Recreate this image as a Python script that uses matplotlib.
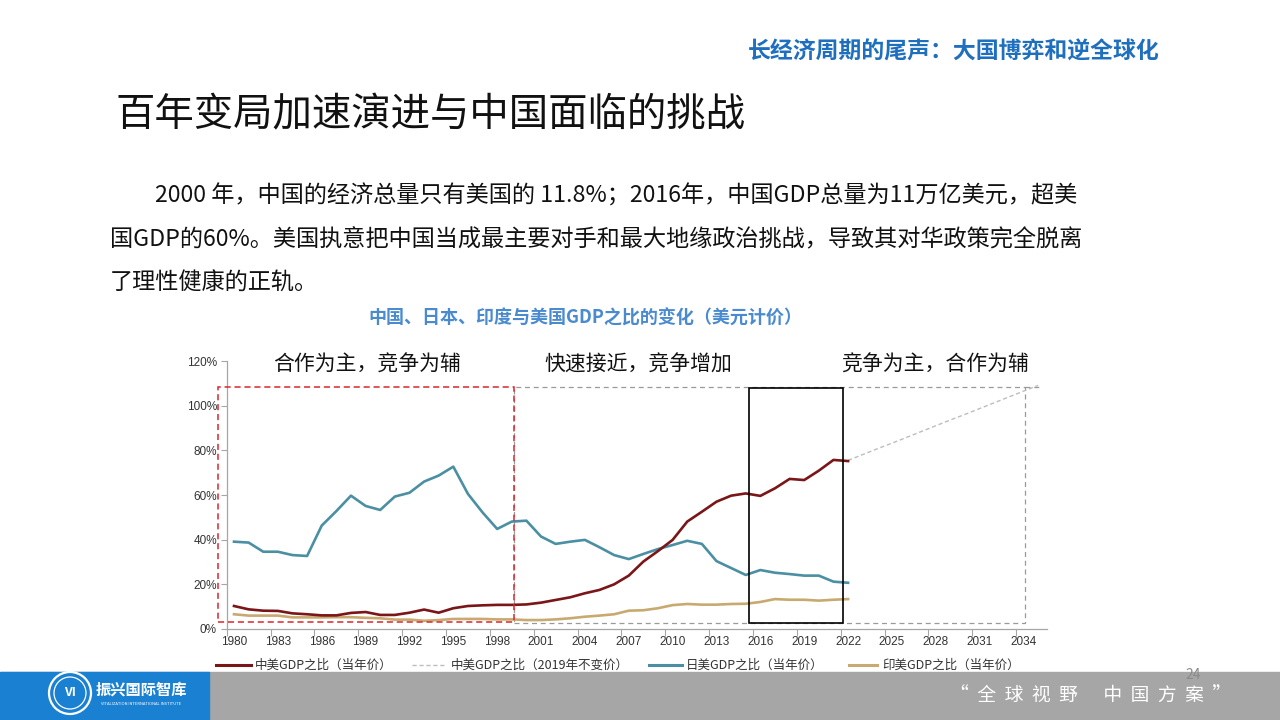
import matplotlib
matplotlib.use("Agg")
import matplotlib.pyplot as plt
from matplotlib.patches import Rectangle, Circle
from matplotlib.lines import Line2D
import numpy as np

plt.rcParams['font.family'] = ['Noto Sans CJK SC', 'DejaVu Sans']

# ---------------- data ----------------
years = list(range(1980, 2023))
china_cur = [10.3, 8.8, 8.2, 8.1, 7.0, 6.6, 6.1, 6.1, 7.2, 7.6,
             6.3, 6.3, 7.3, 8.7, 7.3, 9.3, 10.3, 10.6, 10.8, 10.8,
             11.0, 11.8, 13.0, 14.2, 16.0, 17.5, 20.0, 23.9, 30.2, 34.9,
             39.9, 48.1, 52.5, 57.0, 59.7, 60.7, 59.6, 63.0, 67.2, 66.7,
             70.9, 75.7, 75.2]
japan_cur = [39.1, 38.7, 34.6, 34.6, 33.1, 32.7, 46.3, 52.8, 59.7, 55.1,
             53.3, 59.3, 61.0, 66.0, 68.7, 72.7, 60.5, 52.2, 44.8, 48.1,
             48.5, 41.4, 38.1, 39.1, 39.9, 36.6, 33.1, 31.3, 33.6, 35.8,
             37.6, 39.5, 38.1, 30.4, 27.3, 24.2, 26.4, 25.2, 24.6, 23.9,
             23.9, 21.2, 20.7]
india_cur = [6.6, 6.0, 6.0, 6.0, 5.2, 5.2, 5.2, 5.3, 5.3, 5.0,
             4.8, 4.2, 4.2, 3.7, 4.0, 4.5, 4.5, 4.5, 4.3, 4.3,
             4.0, 4.0, 4.3, 4.8, 5.5, 6.0, 6.6, 8.2, 8.4, 9.3,
             10.7, 11.2, 10.9, 10.9, 11.2, 11.3, 12.1, 13.4, 13.1, 13.1,
             12.7, 13.1, 13.4]
proj_years = list(range(2022, 2036))
china_2019 = [75.5, 78.1, 80.7, 83.2, 85.8, 88.4, 91.0, 93.6, 96.1, 98.7,
              101.3, 103.9, 106.5, 109.1]

xtick_years = list(range(1980, 2035, 3))
ytick_vals = [0, 20, 40, 60, 80, 100, 120]

series_labels = ['中美GDP之比（当年价）', '中美GDP之比（2019年不变价）',
                 '日美GDP之比（当年价）', '印美GDP之比（当年价）']
phase_labels = ['合作为主，竞争为辅', '快速接近，竞争增加', '竞争为主，合作为辅']

c_china = '#7a1518'
c_proj = '#bdbdbd'
c_japan = '#4b8fa3'
c_india = '#c8aa70'

# ---------------- figure ----------------
fig = plt.figure(figsize=(12.8, 7.2), dpi=100)
fig.patch.set_facecolor('white')

bg = fig.add_axes([0, 0, 1, 1])
bg.set_xlim(0, 1280)
bg.set_ylim(720, 0)
bg.axis('off')

# footer band
bg.add_patch(Rectangle((0, 672), 1280, 48, color='#a6a6a6', zorder=1))
bg.add_patch(Rectangle((0, 672), 209, 48, color='#1a80d2', zorder=2))
bg.add_patch(Circle((70, 693), 21, fill=False, ec='white', lw=1.6, zorder=3))
bg.add_patch(Circle((70, 693), 16, fill=False, ec='white', lw=0.9, zorder=3))
bg.text(70, 693, 'VI', color='white', fontsize=9, ha='center', va='center',
        weight='bold', style='italic', zorder=4)
bg.text(141, 690, '振兴国际智库', color='white', fontsize=11, weight='bold',
        ha='center', va='center', zorder=4)
bg.text(141, 704, 'VITALIZATION INTERNATIONAL INSTITUTE', color='white',
        fontsize=3, ha='center', va='center', zorder=4)
bg.text(1091, 696, '“  全  球  视  野      中  国  方  案  ”', color='white', fontsize=13.5,
        ha='center', va='center', zorder=4)
bg.text(1193, 675, '24', color='#8a8a8a', fontsize=10, ha='center', va='center', zorder=4)

# header texts
bg.text(954, 52, '长经济周期的尾声：大国博弈和逆全球化', ha='center', va='center',
        fontsize=16.5, weight='bold', color='#1f6fbf')
bg.text(116, 115, '百年变局加速演进与中国面临的挑战', ha='left', va='center',
        fontsize=28.4, color='#111111')

body = ['2000 年，中国的经济总量只有美国的 11.8%；2016年，中国GDP总量为11万亿美元，超美',
        '国GDP的60%。美国执意把中国当成最主要对手和最大地缘政治挑战，导致其对华政策完全脱离',
        '了理性健康的正轨。']
bg.text(155, 196, body[0], ha='left', va='center', fontsize=16.7, color='#111111')
bg.text(110, 240, body[1], ha='left', va='center', fontsize=16.7, color='#111111')
bg.text(110, 283, body[2], ha='left', va='center', fontsize=16.7, color='#111111')

bg.text(585, 318, '中国、日本、印度与美国GDP之比的变化（美元计价）', ha='center',
        va='center', fontsize=13, weight='bold', color='#4a8bd0')

# phase labels
for xc, lab in zip([367, 638, 935], phase_labels):
    bg.text(xc, 365, lab, ha='center', va='center', fontsize=15, color='#111111')

# legend (manual)
leg_y = 665
bg.add_line(Line2D([216, 251], [leg_y, leg_y], color=c_china, lw=2.2))
bg.text(255, leg_y, series_labels[0], fontsize=9, va='center', ha='left', color='#333333')
bg.add_line(Line2D([412, 445], [leg_y, leg_y], color=c_proj, lw=1.0, ls=(0, (3, 2))))
bg.text(451, leg_y, series_labels[1], fontsize=9, va='center', ha='left', color='#333333')
bg.add_line(Line2D([649, 682], [leg_y, leg_y], color=c_japan, lw=2.2))
bg.text(686, leg_y, series_labels[2], fontsize=9, va='center', ha='left', color='#333333')
bg.add_line(Line2D([849, 877], [leg_y, leg_y], color=c_india, lw=2.2))
bg.text(882, leg_y, series_labels[3], fontsize=9, va='center', ha='left', color='#333333')

# ---------------- main chart ----------------
ax = fig.add_axes([0.1771, 0.12639, 0.6408, 0.37222])
ax.set_facecolor('none')
ax.plot(years, japan_cur, color=c_japan, lw=1.9, zorder=3)
ax.plot(years, india_cur, color=c_india, lw=1.9, zorder=3)
ax.plot(years, china_cur, color=c_china, lw=1.9, zorder=4)
ax.plot(proj_years, china_2019, color=c_proj, lw=1.0, ls=(0, (3, 2)), zorder=2)

ax.set_xlim(1979.5, 2035.6)
ax.set_ylim(0, 120)
ax.set_yticks(ytick_vals)
ax.set_yticklabels([f'{v}%' for v in ytick_vals])
ax.set_xticks(xtick_years)
ax.set_xticklabels([str(y) for y in xtick_years])
ax.set_xticks([y - 0.5 for y in xtick_years], minor=True)
ax.tick_params(axis='x', which='major', length=0, labelsize=8.5, labelcolor='#333333', pad=5)
ax.tick_params(axis='x', which='minor', length=5, color='#a6a6a6', width=0.8)
ax.tick_params(axis='y', length=4, color='#a6a6a6', width=0.8, labelsize=8.5,
               labelcolor='#333333', pad=3)
for lab in ax.get_xticklabels() + ax.get_yticklabels():
    lab.set_fontfamily(['Liberation Sans', 'DejaVu Sans'])
for s in ['top', 'right']:
    ax.spines[s].set_visible(False)
for s in ['left', 'bottom']:
    ax.spines[s].set_color('#a6a6a6')
    ax.spines[s].set_linewidth(0.9)

# phase boxes
ax.add_patch(Rectangle((1999.15, 2.9), 2034.1 - 1999.15, 108.2 - 2.9, fill=False,
                       ec='#9a9a9a', lw=0.9, ls=(0, (4, 3)), clip_on=False, zorder=1))
ax.plot([2034.1, 2035.1], [108.2, 108.2], color='#9a9a9a', lw=0.9, ls=(0, (4, 3)),
        clip_on=False, zorder=1)
ax.add_patch(Rectangle((1978.9, 3.1), 1999.15 - 1978.9, 108.2 - 3.1, fill=False,
                       ec='#d9262c', lw=1.1, ls=(0, (4, 2.5)), clip_on=False, zorder=5))
ax.add_patch(Rectangle((2015.22, 2.9), 2021.65 - 2015.22, 107.9 - 2.9, fill=False,
                       ec='black', lw=1.2, clip_on=False, zorder=5))

fig.savefig('out.png', dpi=100)
